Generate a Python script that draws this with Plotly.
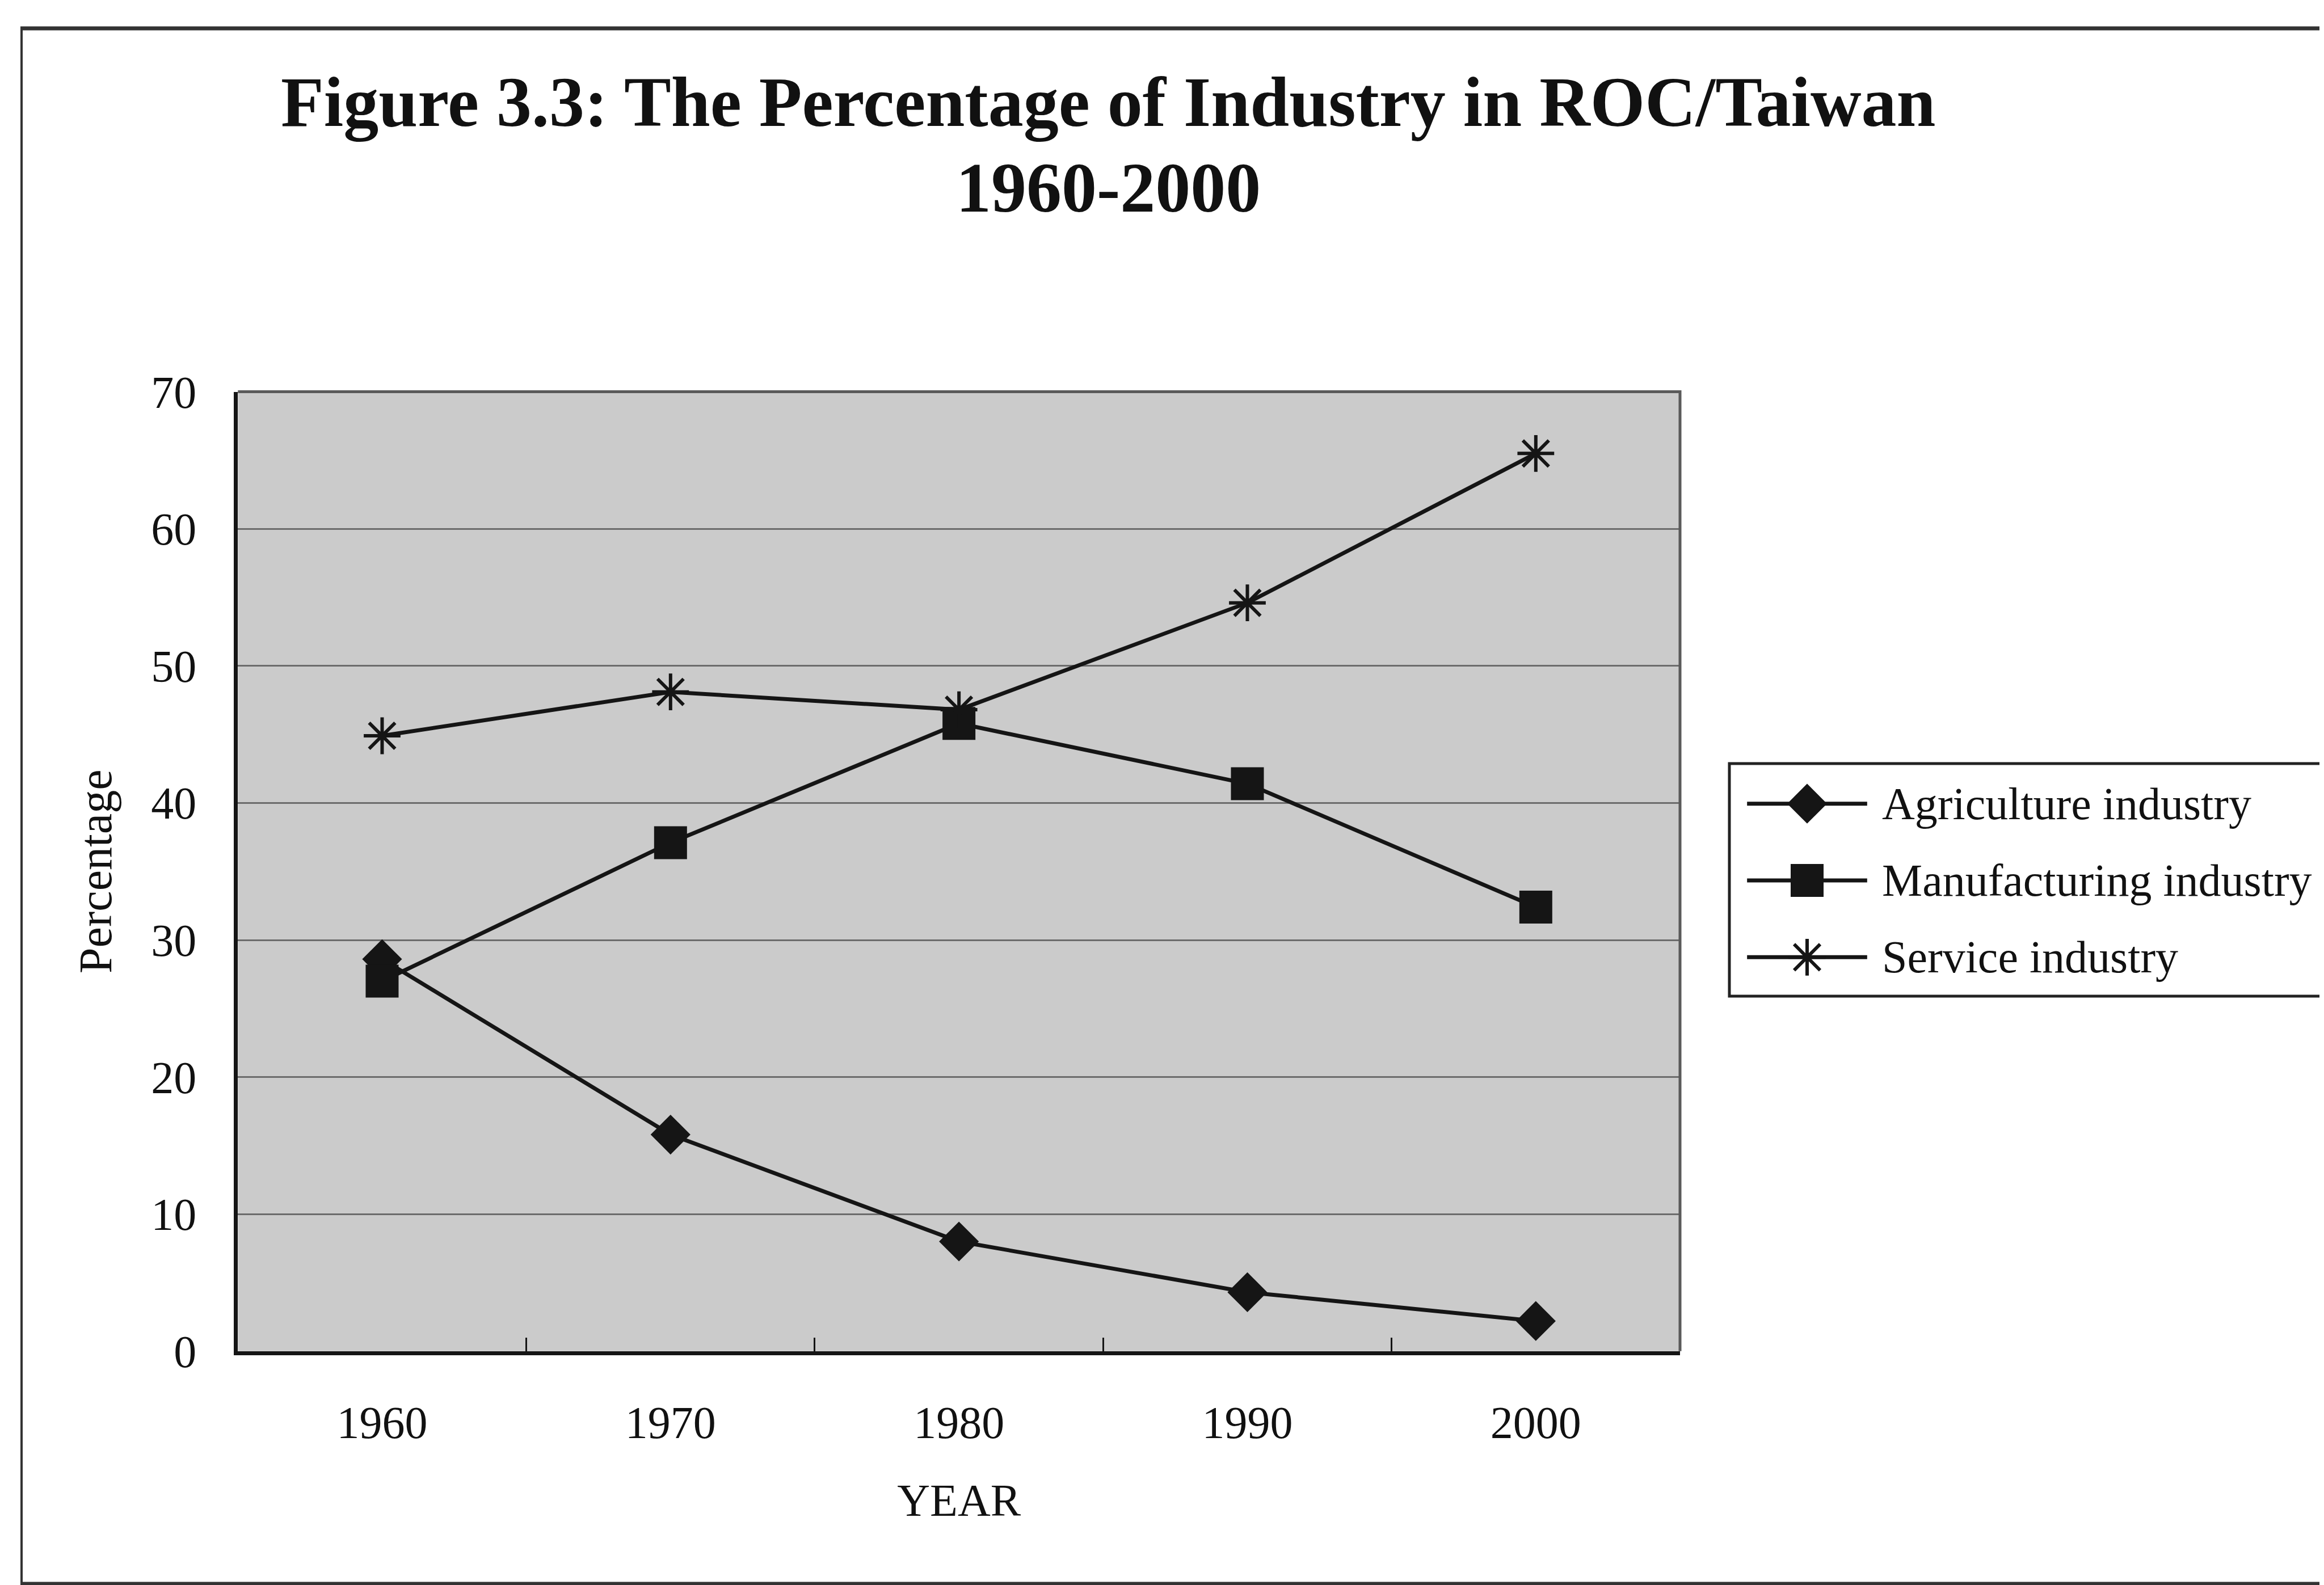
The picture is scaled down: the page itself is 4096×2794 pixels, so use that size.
import plotly.graph_objects as go

# ---------------- data ----------------
years = ["1960", "1970", "1980", "1990", "2000"]
agriculture = [28.6, 15.8, 8.0, 4.3, 2.2]
manufacturing = [27.0, 37.1, 45.8, 41.4, 32.4]
service = [44.9, 48.1, 46.8, 54.6, 65.5]
series_names = ["Agriculture industry", "Manufacturing industry", "Service industry"]
y_ticks = [0, 10, 20, 30, 40, 50, 60, 70]

# ---------------- geometry helpers (pixels -> paper) ----------------
W, H = 4096, 2794


def fx(p):
    return p / W


def fy(p):
    return 1 - p / H


FONT = "Liberation Serif, Times New Roman, serif"
INK = "#151515"

PX0, PX1 = 411.3, 2953.0      # plot area left/right (px)
PY0, PY1 = 682.6, 2373.8      # plot area top/bottom (px)

marker_styles = [
    dict(symbol="diamond", size=54, color=INK, opacity=1, line=dict(width=0)),
    dict(symbol="square", size=58, color=INK, opacity=1, line=dict(width=0)),
    dict(symbol="asterisk-open", size=54, color=INK, opacity=1, line=dict(width=6, color=INK)),
]
series_values = [agriculture, manufacturing, service]

fig = go.Figure()

for name, vals, ms in zip(series_names, series_values, marker_styles):
    fig.add_trace(go.Scatter(
        x=years, y=vals, name=name, mode="lines+markers",
        line=dict(color=INK, width=7), marker=ms,
        xaxis="x", yaxis="y", showlegend=False,
    ))

# custom legend keys (long line sample with the marker in its middle)
for i, (name, ms) in enumerate(zip(series_names, marker_styles)):
    m = dict(ms)
    m["size"] = [0, ms["size"], 0]
    m["opacity"] = 1
    fig.add_trace(go.Scatter(
        x=[0, 1, 2], y=[i, i, i], mode="lines+markers",
        line=dict(color=INK, width=7), marker=m,
        xaxis="x2", yaxis="y2", showlegend=False, hoverinfo="skip",
    ))

annotations = [
    dict(text="<b>Figure 3.3: The Percentage of Industry in ROC/Taiwan</b>",
         x=fx(1945), y=fy(173), xref="paper", yref="paper",
         xanchor="center", yanchor="middle", showarrow=False,
         font=dict(family=FONT, size=124, color="#111")),
    dict(text="<b>1960-2000</b>",
         x=fx(1945), y=fy(323), xref="paper", yref="paper",
         xanchor="center", yanchor="middle", showarrow=False,
         font=dict(family=FONT, size=124, color="#111")),
]
for i, name in enumerate(series_names):
    annotations.append(dict(
        text=name, x=fx(3307), y=i, xref="paper", yref="y2",
        xanchor="left", yanchor="middle", showarrow=False,
        font=dict(family=FONT, size=80, color="#111")))

shapes = [
    # plot area grey background
    dict(type="rect", xref="x domain", yref="y domain", x0=0, x1=1, y0=0, y1=1,
         fillcolor="#cbcbcb", line=dict(width=0), layer="below"),
    # top / right plot border (grey)
    dict(type="path", xref="paper", yref="paper",
         path=f"M {fx(PX0)},{fy(PY0)} L {fx(PX1)},{fy(PY0)} L {fx(PX1)},{fy(PY1)}",
         line=dict(color="#5a5a5a", width=5), layer="above"),
    # legend box
    dict(type="rect", xref="paper", yref="paper",
         x0=fx(3040), x1=fx(4084), y0=fy(1748), y1=fy(1338),
         line=dict(color="#222", width=5), fillcolor="rgba(0,0,0,0)"),
    # outer frame: left (thin)
    dict(type="line", xref="paper", yref="paper",
         x0=fx(30), x1=fx(30), y0=fy(42), y1=fy(2784),
         line=dict(color="#333", width=4)),
    # outer frame: top and bottom (thicker)
    dict(type="line", xref="paper", yref="paper",
         x0=fx(28), x1=1.01, y0=fy(42), y1=fy(42),
         line=dict(color="#333", width=7)),
    dict(type="line", xref="paper", yref="paper",
         x0=fx(28), x1=1.01, y0=fy(2784), y1=fy(2784),
         line=dict(color="#333", width=7)),
]

fig.update_layout(
    width=W, height=H,
    margin=dict(l=0, r=0, t=0, b=0, autoexpand=False),
    paper_bgcolor="white", plot_bgcolor="white",
    font=dict(family=FONT, color="#111"),
    showlegend=False,
    xaxis=dict(
        domain=[fx(PX0), fx(PX1)], anchor="y",
        type="category", range=[-0.5, 4.5],
        tickson="boundaries", ticks="inside", ticklen=24, tickwidth=3, tickcolor=INK,
        showline=True, linecolor=INK, linewidth=7, showgrid=False, zeroline=False,
        tickfont=dict(family=FONT, size=80, color="#111"), ticklabelstandoff=50,
        title=dict(text="YEAR", font=dict(family=FONT, size=80, color="#111"), standoff=68),
        automargin=False,
    ),
    yaxis=dict(
        domain=[fy(PY1), fy(PY0)], anchor="x",
        range=[0, 70], tickvals=y_ticks, ticktext=[str(v) for v in y_ticks],
        showgrid=True, gridcolor="#6c6c6c", gridwidth=3, zeroline=False,
        showline=True, linecolor=INK, linewidth=7, ticks="",
        tickfont=dict(family=FONT, size=80, color="#111"), ticklabelstandoff=50,
        title=dict(text="Percentage", font=dict(family=FONT, size=82, color="#111"), standoff=45),
        automargin=False,
    ),
    xaxis2=dict(domain=[fx(3068), fx(3286)], anchor="y2", range=[-0.03, 2.03],
                visible=False, fixedrange=True),
    yaxis2=dict(domain=[fy(1747), fy(1341)], anchor="x2", range=[2.5, -0.5],
                visible=False, fixedrange=True),
    annotations=annotations,
    shapes=shapes,
)

fig.write_html("out.html")
